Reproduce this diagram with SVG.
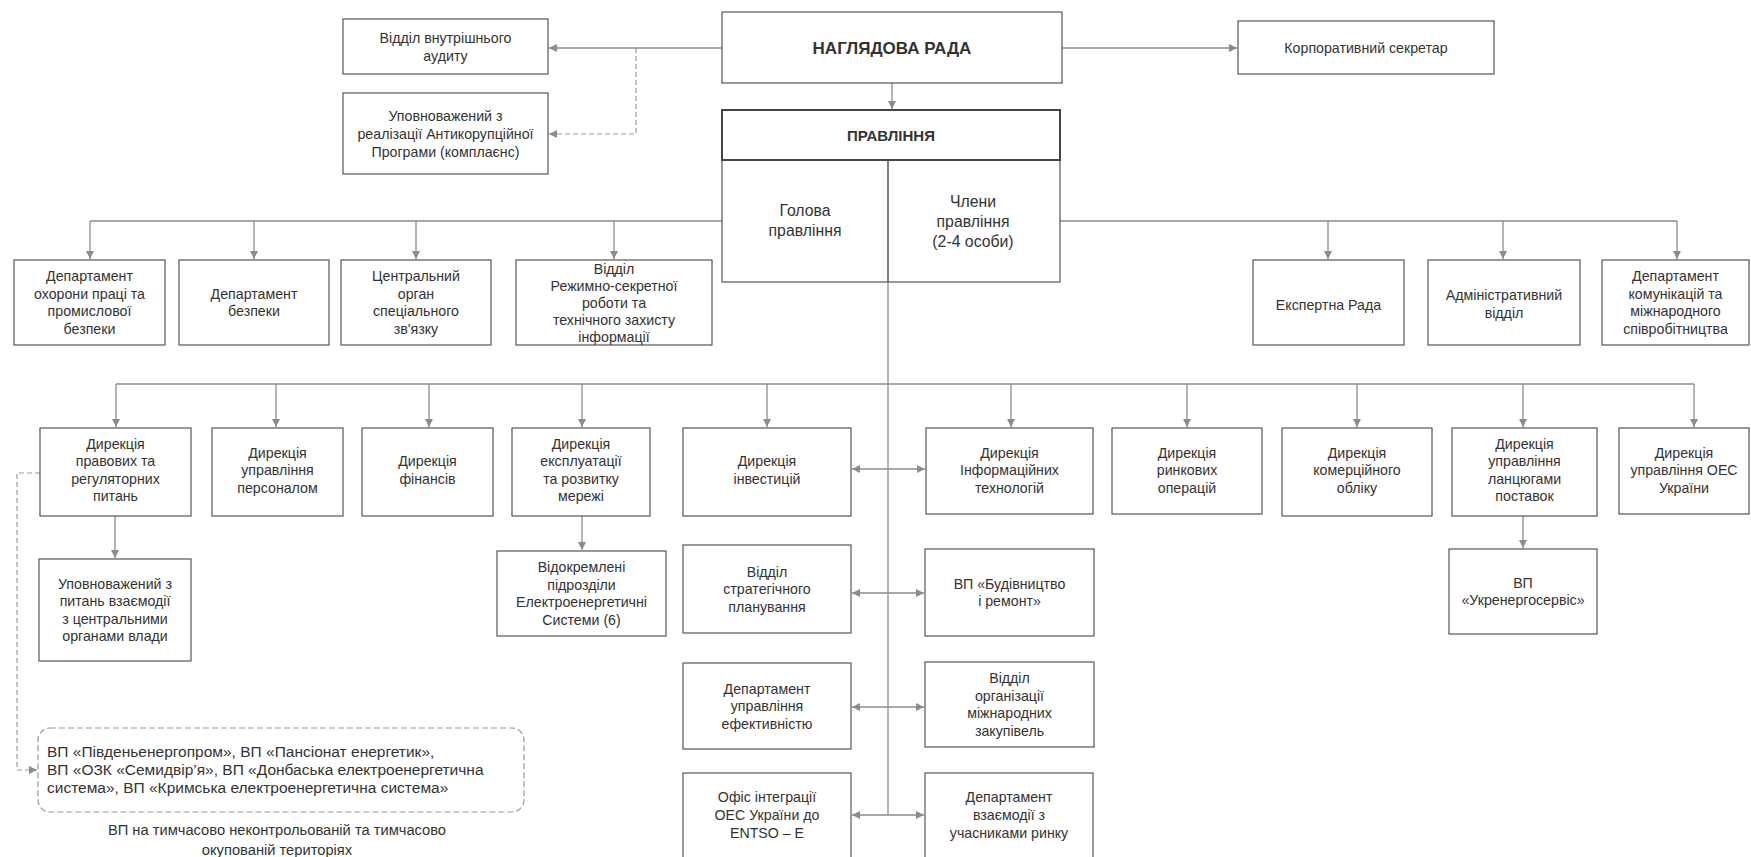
<svg xmlns="http://www.w3.org/2000/svg" width="1751" height="857" viewBox="0 0 1751 857">
<style>
.bg{fill:#ffffff}
.box{fill:#ffffff;stroke:#555;stroke-width:1.2}
.boxb{fill:#ffffff;stroke:#444;stroke-width:2}
.t{font-family:"Liberation Sans",Arial,sans-serif;font-size:14.2px;fill:#333;text-anchor:middle}
.tl{font-family:"Liberation Sans",Arial,sans-serif;font-size:15.5px;fill:#333;text-anchor:start}
.tc{font-family:"Liberation Sans",Arial,sans-serif;font-size:14.7px;fill:#333;text-anchor:middle}
.tb{font-family:"Liberation Sans",Arial,sans-serif;font-weight:bold;fill:#333;text-anchor:middle}
.tm{font-family:"Liberation Sans",Arial,sans-serif;font-size:15.8px;fill:#333;text-anchor:middle}
.c{fill:none;stroke:#8c8c8c;stroke-width:1.3}
.d{fill:none;stroke:#999;stroke-width:1.2;stroke-dasharray:5,3}
.a{marker-end:url(#arr)}
.aa{marker-start:url(#arr);marker-end:url(#arr)}
</style>
<defs>
<marker id="arr" markerUnits="userSpaceOnUse" markerWidth="9" markerHeight="8" refX="8" refY="4" orient="auto-start-reverse">
<path d="M0,0 L8,4 L0,8 z" fill="#8c8c8c"/>
</marker>
</defs>
<rect class="bg" x="0" y="0" width="1751" height="857"/>

<g id="connectors">
<path class="c a" d="M722,48 H549"/>
<path class="d a" d="M636,48 V134 H549"/>
<path class="c a" d="M1062,48 H1237"/>
<path class="c a" d="M892,83 V109"/>
<path class="c" d="M90,221 H722 M1060,221 H1677"/>
<path class="c a" d="M90,221 V259"/>
<path class="c a" d="M254,221 V259"/>
<path class="c a" d="M416,221 V259"/>
<path class="c a" d="M614,221 V259"/>
<path class="c a" d="M1328,221 V259"/>
<path class="c a" d="M1503,221 V259"/>
<path class="c a" d="M1677,221 V259"/>
<path class="c" d="M888,282 V815"/>
<path class="c" d="M116,384 H1694"/>
<path class="c a" d="M116,384 V427"/>
<path class="c a" d="M276,384 V427"/>
<path class="c a" d="M429,384 V427"/>
<path class="c a" d="M582,384 V427"/>
<path class="c a" d="M767,384 V427"/>
<path class="c a" d="M1011,384 V427"/>
<path class="c a" d="M1187,384 V427"/>
<path class="c a" d="M1357,384 V427"/>
<path class="c a" d="M1523,384 V427"/>
<path class="c a" d="M1694,384 V427"/>
<path class="c aa" d="M852,469 H925"/>
<path class="c aa" d="M852,593 H924"/>
<path class="c aa" d="M852,707 H924"/>
<path class="c aa" d="M852,815 H924"/>
<path class="c a" d="M115,516 V558"/>
<path class="c a" d="M582,516 V550"/>
<path class="c a" d="M1523,516 V548"/>
<path class="d a" d="M40,473 H17 V770 H37"/>
</g>

<g id="audit"><rect class="box" x="343" y="19" width="205" height="55"/>
<text class="t" x="445.5" y="43">Відділ внутрішнього</text><text class="t" x="445.5" y="61">аудиту</text></g>
<g id="anticorruption"><rect class="box" x="343" y="93" width="205" height="81"/>
<text class="t" x="445.5" y="121">Уповноважений з</text><text class="t" x="445.5" y="139">реалізації Антикорупційної</text><text class="t" x="445.5" y="157">Програми (комплаєнс)</text></g>
<g id="supervisory"><rect class="box" x="722" y="12" width="340" height="71"/>
<text class="tb" x="892" y="54" font-size="17">НАГЛЯДОВА РАДА</text></g>
<g id="secretary"><rect class="box" x="1238" y="21" width="256" height="53"/>
<text class="t" x="1366" y="53">Корпоративний секретар</text></g>
<g id="board"><rect class="box" x="722" y="160" width="338" height="122"/>
<line x1="888" y1="160" x2="888" y2="282" stroke="#555" stroke-width="1.5"/>
<rect class="boxb" x="722" y="110" width="338" height="50"/>
<text class="tb" x="891" y="140.5" font-size="15">ПРАВЛІННЯ</text>
<text class="tm" x="805" y="216">Голова</text><text class="tm" x="805" y="236">правління</text>
<text class="tm" x="973" y="207">Члени</text><text class="tm" x="973" y="227">правління</text><text class="tm" x="973" y="247">(2-4 особи)</text></g>

<g id="dep-safety"><rect class="box" x="14" y="260" width="151" height="85"/>
<text class="t" x="89.5" y="281">Департамент</text><text class="t" x="89.5" y="299">охорони праці та</text><text class="t" x="89.5" y="316">промислової</text><text class="t" x="89.5" y="334">безпеки</text></g>
<g id="dep-security"><rect class="box" x="179" y="260" width="150" height="85"/>
<text class="t" x="254" y="299">Департамент</text><text class="t" x="254" y="316">безпеки</text></g>
<g id="central-comm"><rect class="box" x="341" y="260" width="150" height="85"/>
<text class="t" x="416" y="281">Центральний</text><text class="t" x="416" y="299">орган</text><text class="t" x="416" y="316">спеціального</text><text class="t" x="416" y="334">зв'язку</text></g>
<g id="secret-dept"><rect class="box" x="516" y="260" width="196" height="85"/>
<text class="t" x="614" y="273.5">Відділ</text><text class="t" x="614" y="290.5">Режимно-секретної</text><text class="t" x="614" y="307.5">роботи та</text><text class="t" x="614" y="324.5">технічного захисту</text><text class="t" x="614" y="341.5">інформації</text></g>
<g id="expert"><rect class="box" x="1253" y="260" width="151" height="85"/>
<text class="t" x="1328.5" y="310">Експертна Рада</text></g>
<g id="admin"><rect class="box" x="1428" y="260" width="152" height="85"/>
<text class="t" x="1504" y="300">Адміністративний</text><text class="t" x="1504" y="318">відділ</text></g>
<g id="dep-comm"><rect class="box" x="1602" y="260" width="147" height="85"/>
<text class="t" x="1675.5" y="281">Департамент</text><text class="t" x="1675.5" y="299">комунікацій та</text><text class="t" x="1675.5" y="316">міжнародного</text><text class="t" x="1675.5" y="334">співробітництва</text></g>

<g id="dir-legal"><rect class="box" x="40" y="428" width="151" height="88"/>
<text class="t" x="115.5" y="449">Дирекція</text><text class="t" x="115.5" y="466">правових та</text><text class="t" x="115.5" y="484">регуляторних</text><text class="t" x="115.5" y="501">питань</text></g>
<g id="dir-hr"><rect class="box" x="212" y="428" width="131" height="88"/>
<text class="t" x="277.5" y="457.5">Дирекція</text><text class="t" x="277.5" y="475">управління</text><text class="t" x="277.5" y="492.5">персоналом</text></g>
<g id="dir-fin"><rect class="box" x="362" y="428" width="131" height="88"/>
<text class="t" x="427.5" y="466">Дирекція</text><text class="t" x="427.5" y="484">фінансів</text></g>
<g id="dir-grid"><rect class="box" x="512" y="428" width="138" height="88"/>
<text class="t" x="581" y="449">Дирекція</text><text class="t" x="581" y="466">експлуатації</text><text class="t" x="581" y="484">та розвитку</text><text class="t" x="581" y="501">мережі</text></g>
<g id="dir-invest"><rect class="box" x="683" y="428" width="168" height="88"/>
<text class="t" x="767" y="466">Дирекція</text><text class="t" x="767" y="484">інвестицій</text></g>
<g id="dir-it"><rect class="box" x="926" y="428" width="167" height="86"/>
<text class="t" x="1009.5" y="457.5">Дирекція</text><text class="t" x="1009.5" y="475">Інформаційних</text><text class="t" x="1009.5" y="492.5">технологій</text></g>
<g id="dir-market"><rect class="box" x="1112" y="428" width="150" height="86"/>
<text class="t" x="1187" y="457.5">Дирекція</text><text class="t" x="1187" y="475">ринкових</text><text class="t" x="1187" y="492.5">операцій</text></g>
<g id="dir-metering"><rect class="box" x="1282" y="428" width="150" height="88"/>
<text class="t" x="1357" y="457.5">Дирекція</text><text class="t" x="1357" y="475">комерційного</text><text class="t" x="1357" y="492.5">обліку</text></g>
<g id="dir-supply"><rect class="box" x="1452" y="428" width="145" height="88"/>
<text class="t" x="1524.5" y="449">Дирекція</text><text class="t" x="1524.5" y="466">управління</text><text class="t" x="1524.5" y="484">ланцюгами</text><text class="t" x="1524.5" y="501">поставок</text></g>
<g id="dir-ups"><rect class="box" x="1619" y="428" width="130" height="86"/>
<text class="t" x="1684" y="457.5">Дирекція</text><text class="t" x="1684" y="475">управління ОЕС</text><text class="t" x="1684" y="492.5">України</text></g>

<g id="authority-liaison"><rect class="box" x="39" y="559" width="152" height="102"/>
<text class="t" x="115" y="589">Уповноважений з</text><text class="t" x="115" y="606">питань взаємодії</text><text class="t" x="115" y="624">з центральними</text><text class="t" x="115" y="641">органами влади</text></g>
<g id="separate-units"><rect class="box" x="497" y="551" width="169" height="85"/>
<text class="t" x="581.5" y="572">Відокремлені</text><text class="t" x="581.5" y="590">підрозділи</text><text class="t" x="581.5" y="607">Електроенергетичні</text><text class="t" x="581.5" y="625">Системи (6)</text></g>
<g id="strategy"><rect class="box" x="683" y="545" width="168" height="88"/>
<text class="t" x="767" y="576.5">Відділ</text><text class="t" x="767" y="594">стратегічного</text><text class="t" x="767" y="611.5">планування</text></g>
<g id="construction"><rect class="box" x="925" y="549" width="169" height="87"/>
<text class="t" x="1009.5" y="589">ВП «Будівництво</text><text class="t" x="1009.5" y="606">і ремонт»</text></g>
<g id="efficiency"><rect class="box" x="683" y="663" width="168" height="86"/>
<text class="t" x="767" y="693.5">Департамент</text><text class="t" x="767" y="711">управління</text><text class="t" x="767" y="728.5">ефективністю</text></g>
<g id="procurement"><rect class="box" x="925" y="662" width="169" height="85"/>
<text class="t" x="1009.5" y="683">Відділ</text><text class="t" x="1009.5" y="701">організації</text><text class="t" x="1009.5" y="718">міжнародних</text><text class="t" x="1009.5" y="736">закупівель</text></g>
<g id="entso"><rect class="box" x="683" y="773" width="168" height="100"/>
<text class="t" x="767" y="802">Офіс інтеграції</text><text class="t" x="767" y="820">ОЕС України до</text><text class="t" x="767" y="838">ENTSO – E</text></g>
<g id="participants"><rect class="box" x="925" y="773" width="168" height="100"/>
<text class="t" x="1009" y="802">Департамент</text><text class="t" x="1009" y="820">взаємодії з</text><text class="t" x="1009" y="838">учасниками ринку</text></g>
<g id="ukrenergoservice"><rect class="box" x="1449" y="549" width="148" height="85"/>
<text class="t" x="1523" y="588">ВП</text><text class="t" x="1523" y="605">«Укренергосервіс»</text></g>

<g id="occupied">
<rect x="38" y="728" width="486" height="84" rx="12" ry="12" fill="#fff" stroke="#999" stroke-width="1.2" stroke-dasharray="6,3"/>
<text class="tl" x="47" y="757">ВП «Південьенергопром», ВП «Пансіонат енергетик»,</text>
<text class="tl" x="47" y="775">ВП «ОЗК «Семидвір’я», ВП «Донбаська електроенергетична</text>
<text class="tl" x="47" y="793">система», ВП «Кримська електроенергетична система»</text>
<text class="tc" x="277" y="835">ВП на тимчасово неконтрольованій та тимчасово</text>
<text class="tc" x="277" y="855">окупованій територіях</text>
</g>
</svg>
